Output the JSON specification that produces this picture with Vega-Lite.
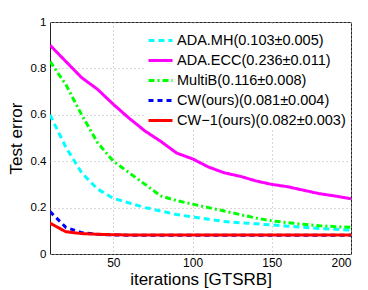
{
  "$schema": "https://vega.github.io/schema/vega-lite/v6.json",
  "autosize": "none",
  "width": 301,
  "height": 232,
  "padding": {"left": 50, "top": 22, "right": 17, "bottom": 36},
  "background": "white",
  "config": {
    "font": "Liberation Sans",
    "view": {"stroke": "#222222", "strokeWidth": 1},
    "axis": {
      "labelFont": "Liberation Sans", "titleFont": "Liberation Sans",
      "labelColor": "black", "titleColor": "black", "titleFontWeight": "normal",
      "labelFontSize": 12, "titleFontSize": 17,
      "grid": true, "gridColor": "#b0b0b0", "gridDash": [1, 3], "gridWidth": 1,
      "domain": false, "ticks": false, "labelPadding": 4
    }
  },
  "data": {"values": [
    {"it":10,"s":"MH","v":0.60},{"it":20,"s":"MH","v":0.46},{"it":30,"s":"MH","v":0.35},{"it":40,"s":"MH","v":0.28},{"it":50,"s":"MH","v":0.24},{"it":60,"s":"MH","v":0.22},{"it":70,"s":"MH","v":0.20},{"it":80,"s":"MH","v":0.185},{"it":90,"s":"MH","v":0.17},{"it":100,"s":"MH","v":0.16},{"it":110,"s":"MH","v":0.15},{"it":120,"s":"MH","v":0.14},{"it":130,"s":"MH","v":0.135},{"it":140,"s":"MH","v":0.13},{"it":150,"s":"MH","v":0.125},{"it":160,"s":"MH","v":0.12},{"it":170,"s":"MH","v":0.115},{"it":180,"s":"MH","v":0.11},{"it":190,"s":"MH","v":0.107},{"it":200,"s":"MH","v":0.103},
    {"it":10,"s":"ECC","v":0.90},{"it":20,"s":"ECC","v":0.83},{"it":30,"s":"ECC","v":0.76},{"it":40,"s":"ECC","v":0.71},{"it":50,"s":"ECC","v":0.645},{"it":60,"s":"ECC","v":0.585},{"it":70,"s":"ECC","v":0.53},{"it":80,"s":"ECC","v":0.485},{"it":90,"s":"ECC","v":0.435},{"it":100,"s":"ECC","v":0.41},{"it":110,"s":"ECC","v":0.375},{"it":120,"s":"ECC","v":0.35},{"it":130,"s":"ECC","v":0.335},{"it":140,"s":"ECC","v":0.315},{"it":150,"s":"ECC","v":0.30},{"it":160,"s":"ECC","v":0.29},{"it":170,"s":"ECC","v":0.275},{"it":180,"s":"ECC","v":0.26},{"it":190,"s":"ECC","v":0.25},{"it":200,"s":"ECC","v":0.238},
    {"it":10,"s":"MB","v":0.83},{"it":20,"s":"MB","v":0.73},{"it":30,"s":"MB","v":0.60},{"it":40,"s":"MB","v":0.48},{"it":50,"s":"MB","v":0.40},{"it":60,"s":"MB","v":0.35},{"it":70,"s":"MB","v":0.30},{"it":80,"s":"MB","v":0.25},{"it":90,"s":"MB","v":0.23},{"it":100,"s":"MB","v":0.215},{"it":110,"s":"MB","v":0.20},{"it":120,"s":"MB","v":0.185},{"it":130,"s":"MB","v":0.17},{"it":140,"s":"MB","v":0.155},{"it":150,"s":"MB","v":0.143},{"it":160,"s":"MB","v":0.135},{"it":170,"s":"MB","v":0.128},{"it":180,"s":"MB","v":0.122},{"it":190,"s":"MB","v":0.118},{"it":200,"s":"MB","v":0.115},
    {"it":10,"s":"CW","v":0.183},{"it":20,"s":"CW","v":0.115},{"it":30,"s":"CW","v":0.092},{"it":40,"s":"CW","v":0.085},{"it":50,"s":"CW","v":0.082},{"it":60,"s":"CW","v":0.081},{"it":70,"s":"CW","v":0.081},{"it":80,"s":"CW","v":0.081},{"it":90,"s":"CW","v":0.081},{"it":100,"s":"CW","v":0.081},{"it":110,"s":"CW","v":0.081},{"it":120,"s":"CW","v":0.081},{"it":130,"s":"CW","v":0.081},{"it":140,"s":"CW","v":0.081},{"it":150,"s":"CW","v":0.081},{"it":160,"s":"CW","v":0.081},{"it":170,"s":"CW","v":0.081},{"it":180,"s":"CW","v":0.081},{"it":190,"s":"CW","v":0.081},{"it":200,"s":"CW","v":0.081},
    {"it":10,"s":"CW1","v":0.133},{"it":20,"s":"CW1","v":0.096},{"it":30,"s":"CW1","v":0.088},{"it":40,"s":"CW1","v":0.085},{"it":50,"s":"CW1","v":0.083},{"it":60,"s":"CW1","v":0.082},{"it":70,"s":"CW1","v":0.082},{"it":80,"s":"CW1","v":0.082},{"it":90,"s":"CW1","v":0.082},{"it":100,"s":"CW1","v":0.082},{"it":110,"s":"CW1","v":0.082},{"it":120,"s":"CW1","v":0.082},{"it":130,"s":"CW1","v":0.082},{"it":140,"s":"CW1","v":0.082},{"it":150,"s":"CW1","v":0.082},{"it":160,"s":"CW1","v":0.082},{"it":170,"s":"CW1","v":0.082},{"it":180,"s":"CW1","v":0.082},{"it":190,"s":"CW1","v":0.082},{"it":200,"s":"CW1","v":0.082}
  ]},
  "mark": {"type": "line", "strokeWidth": 3, "clip": true},
  "encoding": {
    "x": {"field": "it", "type": "quantitative", "scale": {"domain": [10, 200], "nice": false}, "axis": {"values": [50, 100, 150, 200], "title": "iterations [GTSRB]", "labelPadding": 3, "titlePadding": 3, "titleFontSize": 17}},
    "y": {"field": "v", "type": "quantitative", "scale": {"domain": [0, 1], "nice": false}, "axis": {"values": [0, 0.2, 0.4, 0.6, 0.8, 1], "format": "~g", "title": "Test error", "titlePadding": 5, "labelFontSize": 11.5}},
    "color": {"field": "s", "type": "nominal",
      "scale": {"domain": ["MH", "ECC", "MB", "CW", "CW1"], "range": ["#00ffff", "#ff00ff", "#00ff00", "#0000ff", "#ff0000"]},
      "legend": {
        "orient": "none", "legendX": 95, "legendY": 3, "title": null,
        "labelExpr": "{'MH':'ADA.MH(0.103±0.005)','ECC':'ADA.ECC(0.236±0.011)','MB':'MultiB(0.116±0.008)','CW':'CW(ours)(0.081±0.004)','CW1':'CW−1(ours)(0.082±0.003)'}[datum.value]",
        "labelFontSize": 14.5, "labelColor": "black", "labelFont": "Liberation Sans", "labelLimit": 400,
        "symbolType": "stroke", "symbolSize": 576, "symbolStrokeWidth": 3,
        "rowPadding": -5.5, "labelOffset": 3, "fillColor": "white", "padding": 2
      }},
    "strokeDash": {"field": "s", "type": "nominal",
      "scale": {"domain": ["MH", "ECC", "MB", "CW", "CW1"], "range": [[6, 4], [1, 0], [6, 3, 2, 3], [5, 4], [1, 0]]},
      "legend": null},
    "order": {"field": "it", "type": "quantitative"}
  }
}
